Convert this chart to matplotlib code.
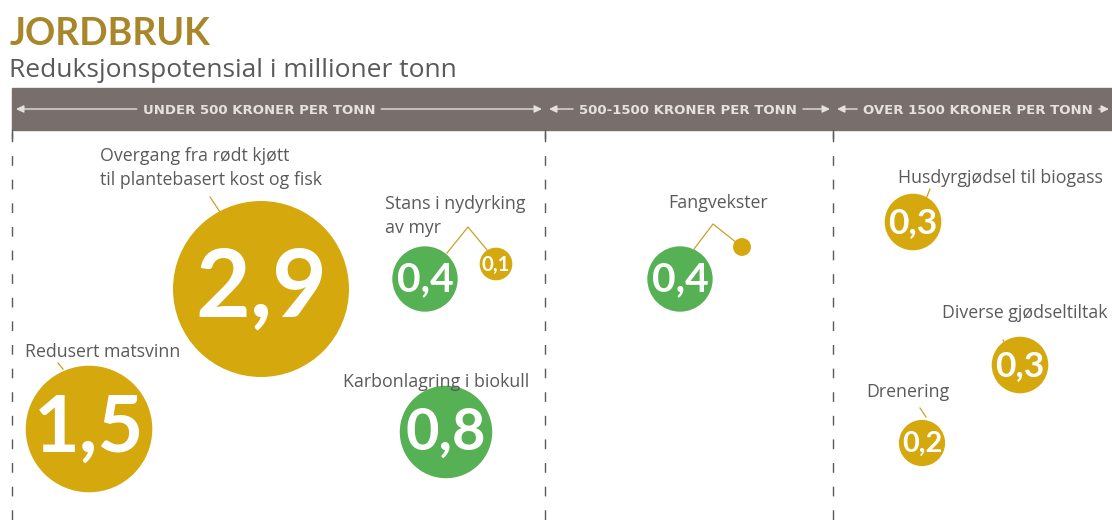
import matplotlib.pyplot as plt
import numpy as np

# data
labels = ["Overgang fra rødt kjøtt\ntil plantebasert kost og fisk", "Redusert matsvinn",
          "Stans i nydyrking\nav myr", "", "Karbonlagring i biokull",
          "Fangvekster", "", "Husdyrgjødsel til biogass", "Diverse gjødseltiltak", "Drenering"]
values = [2.9, 1.5, 0.4, 0.1, 0.8, 0.4, 0.03, 0.3, 0.3, 0.2]
value_txt = ["2,9", "1,5", "0,4", "0,1", "0,8", "0,4", "", "0,3", "0,3", "0,2"]
kind = ["gold", "gold", "green", "gold", "green", "green", "gold", "gold", "gold", "gold"]
groups = ["UNDER 500 KRONER PER TONN", "500-1500 KRONER PER TONN", "OVER 1500 KRONER PER TONN"]

# layout (pixels)
cx = [261, 89, 425, 496, 446, 680, 742, 913, 1020, 922]
cy = [289, 429, 279, 264, 432, 279, 247, 222, 365, 443]
lab_x = [100, 25, 385, None, 343, 668, None, 898, 942, 866]
lab_y = [168, 352, 216, None, 382, 203, None, 178, 313, 392]
leaders = [[(210, 197), (220, 212)], [(58, 363), (63, 369)],
           [(447, 253), (468, 227), (487, 250)], None, [(425, 398), (432, 411)],
           [(694, 249), (713, 224), (737, 243)], None,
           [(930, 189), (926, 199)], [(1003, 340), (1009, 350)], [(920, 408), (926, 417)]]
seg_x = [12, 545, 833, 1112]
head_mid = [259, 688, 978]

colors = {"gold": "#d5a80d", "green": "#56b054"}
plt.rcParams['font.family'] = ['Open Sans', 'DejaVu Sans']

fig = plt.figure(figsize=(11.12, 5.21), dpi=100)
ax = fig.add_axes([0, 0, 1, 1])
ax.set_xlim(0, 1112)
ax.set_ylim(521, 0)
ax.axis("off")

ax.text(10, 45, "JORDBRUK", color="#a8862a", fontsize=27, fontweight="bold", family="Lato", va="baseline")
ax.text(9, 77, "Reduksjonspotensial i millioner tonn", color="#595959", fontsize=19, va="baseline")

# header bar
ax.add_patch(plt.Rectangle((12, 88), 1100, 42, color="#786f6d", zorder=1))
hc = "#e6e1df"
for i, g in enumerate(groups):
    x0, x1 = seg_x[i] + 4, seg_x[i + 1] - 3
    t = ax.text(head_mid[i], 110, g, color=hc, fontsize=9.5, fontweight="bold", family="DejaVu Sans",
                ha="center", va="center", zorder=3)
    fig.canvas.draw()
    bb = t.get_window_extent()
    tl = bb.x0 - 6
    tr = bb.x1 + 6
    for a, b in [(tl, x0), (tr, x1)]:
        ax.annotate("", xy=(b, 109), xytext=(a, 109),
                    arrowprops=dict(arrowstyle="-|>,head_length=0.45,head_width=0.22", color=hc, lw=1,
                                    shrinkA=0, shrinkB=0), zorder=3)

for x in seg_x[:3]:
    ax.plot([x, x], [132, 521], color="#5a5a5a", lw=1, ls=(0, (7, 10)), zorder=1)
    ax.plot([x, x], [130, 138], color="#5a5a5a", lw=1, zorder=1)

# bubbles: area proportional to value
r_px = 88 * np.sqrt(np.array(values) / 2.9)
sizes = (2 * r_px * 0.72) ** 2
ax.scatter(cx, cy, s=sizes, c=[colors[k] for k in kind], linewidths=0, zorder=4)

for i in range(len(values)):
    if value_txt[i]:
        fs = min(0.9 * r_px[i], 68)
        ax.text(cx[i], cy[i] + 1, value_txt[i], color="white", fontsize=fs, fontweight="bold",
                family="Lato", ha="center", va="center", zorder=5)
    if labels[i]:
        ax.text(lab_x[i], lab_y[i], labels[i], color="#5a5a5a", fontsize=12.8, ha="left", va="center",
                linespacing=1.45, zorder=5)
    if leaders[i]:
        xs, ys = zip(*leaders[i])
        ax.plot(xs, ys, color="#c9a02a", lw=0.9, zorder=3)

fig.savefig("out.png", dpi=100)
